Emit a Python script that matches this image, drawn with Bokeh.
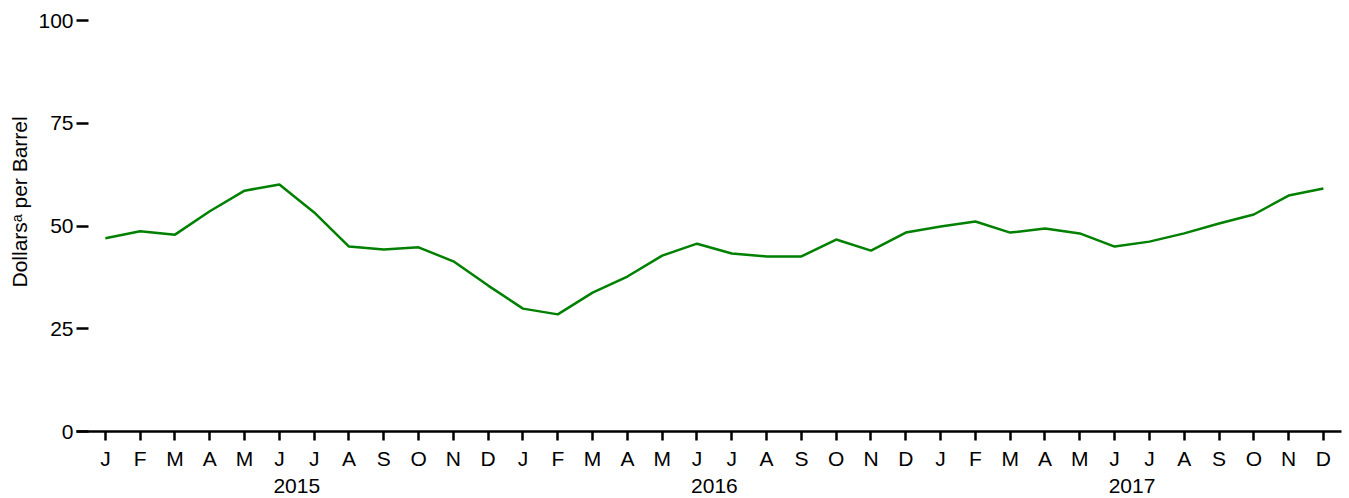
from bokeh.plotting import figure
from bokeh.models import FixedTicker, LinearAxis, Range1d, Title
from bokeh.embed import file_html
from bokeh.resources import INLINE

months = ["J", "F", "M", "A", "M", "J", "J", "A", "S", "O", "N", "D"] * 3
years = ["2015", "2016", "2017"]
prices = [47.0, 48.7, 47.9, 53.6, 58.6, 60.1, 53.3, 45.0, 44.3, 44.8, 41.4, 35.5,
          29.9, 28.5, 33.8, 37.7, 42.8, 45.7, 43.3, 42.6, 42.6, 46.7, 44.0, 48.4,
          49.9, 51.1, 48.4, 49.4, 48.2, 45.0, 46.2, 48.2, 50.6, 52.8, 57.4, 59.1]
y_ticks = [0, 25, 50, 75, 100]

x = list(range(len(prices)))
FONT = "Liberation Sans"
FS = "21px"

p = figure(width=1345, height=496, output_backend="svg", toolbar_location=None,
           x_range=Range1d(-0.83, 35.52), y_range=Range1d(0, 100),
           min_border_left=75, min_border_right=4, min_border_top=20, min_border_bottom=65,
           x_axis_location=None, y_axis_location=None)
p.outline_line_color = None
p.xgrid.visible = False
p.ygrid.visible = False

p.line(x, prices, line_color="#008000", line_width=2.5)

# y axis
yax = LinearAxis(ticker=FixedTicker(ticks=y_ticks))
yax.axis_line_color = None
yax.major_tick_in = 12
yax.major_tick_out = 0
yax.major_tick_line_width = 2.5
yax.major_tick_line_color = "black"
yax.minor_tick_line_color = None
yax.major_label_standoff = 3
yax.major_label_text_font = FONT
yax.major_label_text_font_size = FS
yax.major_label_text_color = "black"
p.add_layout(yax, "left")

ytitle = Title(text="Dollarsᵃ per Barrel", align="left", offset=144, standoff=10,
               text_font=FONT, text_font_size="21px", text_font_style="normal",
               text_color="black")
p.add_layout(ytitle, "left")

# month axis
xax = LinearAxis(ticker=FixedTicker(ticks=x))
xax.major_label_overrides = {i: m for i, m in enumerate(months)}
xax.axis_line_width = 2.5
xax.axis_line_color = "black"
xax.major_tick_in = 0
xax.major_tick_out = 9
xax.major_tick_line_width = 2.5
xax.major_tick_line_color = "black"
xax.minor_tick_line_color = None
xax.major_label_standoff = 6
xax.major_label_text_font = FONT
xax.major_label_text_font_size = FS
xax.major_label_text_color = "black"
p.add_layout(xax, "below")

# year axis
yr_ticks = [5.5, 17.5, 29.5]
yrax = LinearAxis(ticker=FixedTicker(ticks=yr_ticks))
yrax.major_label_overrides = {t: y for t, y in zip(yr_ticks, years)}
yrax.axis_line_color = None
yrax.major_tick_line_color = None
yrax.minor_tick_line_color = None
yrax.major_tick_in = 0
yrax.major_tick_out = 0
yrax.major_label_standoff = 6
yrax.major_label_text_font = FONT
yrax.major_label_text_font_size = FS
yrax.major_label_text_color = "black"
p.add_layout(yrax, "below")

open("out.html", "w").write(file_html(p, INLINE))
